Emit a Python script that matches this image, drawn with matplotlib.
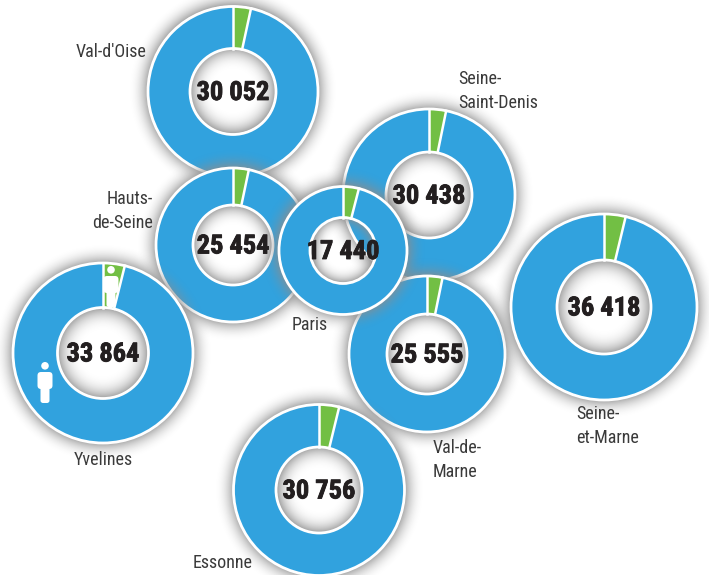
import numpy as np
import matplotlib
matplotlib.use("Agg")
import matplotlib.pyplot as plt
import matplotlib.patheffects as pe
from matplotlib.patches import Circle, FancyBboxPatch

names = ["Val-d'Oise", "Seine-Saint-Denis", "Hauts-de-Seine", "Yvelines",
         "Val-de-Marne", "Paris", "Seine-et-Marne", "Essonne"]
totals = ["30 052", "30 438", "25 454", "33 864", "25 555", "17 440", "36 418", "30 756"]
green_share = [3.4, 3.2, 3.3, 3.9, 3.2, 4.0, 3.75, 3.8]

# layout in picture pixels: x, y, outer radius, hole radius
cx = [233, 429, 233, 103, 427, 343, 604, 319]
cy = [91.5, 195, 245, 353, 354, 250.5, 307, 490]
rout = [85, 86, 77, 90, 78, 64, 93, 85.5]
rin = [43, 43, 40, 45.5, 40, 33, 47, 43]

label_text = ["Val-d'Oise", "Seine-\nSaint-Denis", "Hauts-\nde-Seine", "Yvelines",
              "Val-de-\nMarne", "Paris", "Seine-\net-Marne", "Essonne"]
label_x = [146, 458, 153, 103, 433, 310, 576, 193]
label_y = [52, 91, 211, 460, 460, 325, 426, 563]
label_ha = ["right", "left", "right", "center", "left", "center", "left", "left"]

BLUE = "#31a2de"
GREEN = "#72bf44"
H = 575
NARROW = ["Roboto Condensed", "DejaVu Sans"]

fig = plt.figure(figsize=(7.09, 5.75), dpi=100)
ax = fig.add_axes([0, 0, 1, 1])


def shadow(x, y, r1, r2, z):
    # grey halo outside the ring and inside the hole, it lightens the blue below
    pad = 20
    size = int(2 * (r1 + pad)) * 2
    xs = np.linspace(-r1 - pad, r1 + pad, size)
    xx, yy = np.meshgrid(xs, xs)
    d = np.hypot(xx, yy)
    a = np.zeros_like(d)
    out = d > r1
    a[out] = 0.80 * np.clip(1 - (d[out] - r1) / pad, 0, 1) ** 2.2
    hole = d < r2
    a[hole] = 0.85 * np.clip((d[hole] - 0.45 * r2) / (0.55 * r2), 0, 1) ** 2.5
    img = np.full(d.shape + (4,), 0.55)
    img[..., 3] = a
    ax.imshow(img, extent=[x - r1 - pad, x + r1 + pad, H - y - r1 - pad, H - y + r1 + pad],
              origin="lower", zorder=z, interpolation="bilinear", aspect="auto")


green_wedges = []
for i in range(len(names)):
    z = 2 + i * 2
    shadow(cx[i], cy[i], rout[i], rin[i], z)
    wedges, _ = ax.pie([green_share[i], 100 - green_share[i]], colors=[GREEN, BLUE],
                       center=(cx[i], H - cy[i]), radius=rout[i], startangle=90,
                       counterclock=False, wedgeprops=dict(width=rout[i] - rin[i], linewidth=0))
    for w in wedges:
        w.set_zorder(z + 0.2)
    green_wedges.append(wedges[0])
    # white rims and the white lines either side of the green slice
    ax.add_patch(Circle((cx[i], H - cy[i]), rout[i], fill=False, ec="white", lw=2.0, zorder=z + 0.5))
    ax.add_patch(Circle((cx[i], H - cy[i]), rin[i], fill=False, ec="white", lw=2.0, zorder=z + 0.5))
    t = np.radians(90 - 3.6 * green_share[i])
    ax.plot([cx[i] + rin[i] * np.cos(t), cx[i] + rout[i] * np.cos(t)],
            [H - cy[i] + rin[i] * np.sin(t), H - cy[i] + rout[i] * np.sin(t)],
            color="white", lw=1.8, zorder=z + 0.4)
    ax.plot([cx[i], cx[i]], [H - cy[i] + rin[i], H - cy[i] + rout[i]],
            color="white", lw=1.8, zorder=z + 0.4)


def person(x, top, z, clip=None):
    parts = [Circle((x, H - top - 3.8), 3.8, color="white", lw=0, zorder=z),
             FancyBboxPatch((x - 7.5, H - top - 27), 15, 17,
                            boxstyle="round,pad=0,rounding_size=3.5",
                            fc="white", ec="none", zorder=z),
             FancyBboxPatch((x - 4.5, H - top - 41), 9, 22,
                            boxstyle="round,pad=0,rounding_size=2.5",
                            fc="white", ec="none", zorder=z)]
    for p in parts:
        ax.add_patch(p)
        if clip is not None:
            p.set_clip_path(clip)


# figures on the Yvelines ring, the upper one only shows inside the green slice
person(45, 362, 9)
person(111, 266, 9, clip=green_wedges[3])

for i in range(len(names)):
    ax.text(cx[i], H - cy[i] - 1.5, totals[i], ha="center", va="center", fontsize=19,
            fontweight="bold", family=NARROW, color="#231f20", zorder=30,
            path_effects=[pe.withStroke(linewidth=0.6, foreground="#231f20")])
    ax.text(label_x[i], H - label_y[i], label_text[i], ha=label_ha[i], va="center",
            fontsize=13, family=NARROW, color="#3a3a3a", zorder=30, linespacing=1.42)

ax.set_xlim(0, 709)
ax.set_ylim(0, H)
ax.set_aspect("auto")
ax.axis("off")
fig.savefig("out.png", dpi=100, facecolor="white")
